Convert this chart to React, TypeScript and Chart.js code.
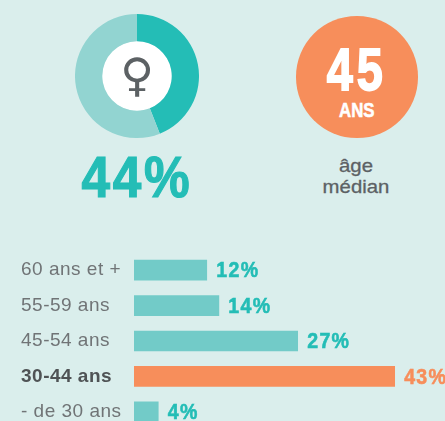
import React, { useEffect, useRef } from "react";
import { Chart, registerables } from "chart.js";

Chart.register(...registerables);

const genderLabels = ["Femmes", "Hommes"];
const genderValues = [44, 56];
const ageLabels = ["60 ans et +", "55-59 ans", "45-54 ans", "30-44 ans", "- de 30 ans"];
const ageValues = [12, 14, 27, 43, 4];
const highlightAge = "30-44 ans";

const TEAL = "#24bdb6";
const TEAL_LIGHT = "#92d4d1";
const TEAL_BAR = "#72cbc8";
const ORANGE = "#f78e5b";
const BG = "#daeeec";
const INK = "#5c6164";
const HEAVY = '"Liberation Sans", sans-serif';

const abs = (left: number, top: number, width: number, height: number): React.CSSProperties => ({
  position: "absolute", left, top, width, height,
});
const stretched = (sx: number): React.CSSProperties => ({ transform: `scaleX(${sx})`, transformOrigin: "center" });

export default function App() {
  const donutRef = useRef<HTMLCanvasElement>(null);
  const barRef = useRef<HTMLCanvasElement>(null);

  useEffect(() => {
    const donut = new Chart(donutRef.current!, {
      type: "doughnut",
      data: {
        labels: genderLabels,
        datasets: [{ data: genderValues, backgroundColor: [TEAL, TEAL_LIGHT], borderWidth: 0 }],
      },
      options: {
        animation: false, responsive: false, cutout: "56%",
        layout: { padding: 0 },
        plugins: { legend: { display: false }, tooltip: { enabled: false } },
      },
    });

    const valueLabels = {
      id: "valueLabels",
      beforeDraw(chart: any) {
        chart.ctx.letterSpacing = "0.5px";
      },
      afterDatasetsDraw(chart: any) {
        const { ctx } = chart;
        const meta = chart.getDatasetMeta(0);
        meta.data.forEach((bar: any, i: number) => {
          const color = ageLabels[i] === highlightAge ? ORANGE : TEAL;
          ctx.save();
          ctx.translate(bar.x + 9.5, bar.y + 1);
          ctx.scale(0.87, 1);
          ctx.letterSpacing = "1.5px";
          ctx.font = `bold 22.5px ${HEAVY}`;
          ctx.textBaseline = "middle";
          ctx.textAlign = "left";
          ctx.fillStyle = color;
          ctx.strokeStyle = color;
          ctx.lineWidth = 0.6;
          ctx.fillText(`${ageValues[i]}%`, 0, 0);
          ctx.strokeText(`${ageValues[i]}%`, 0, 0);
          ctx.restore();
        });
      },
    };

    const bars = new Chart(barRef.current!, {
      type: "bar",
      plugins: [valueLabels],
      data: {
        labels: ageLabels,
        datasets: [{
          data: ageValues,
          barThickness: 20,
          backgroundColor: ageLabels.map((l) => (l === highlightAge ? ORANGE : TEAL_BAR)),
        }],
      },
      options: {
        indexAxis: "y",
        animation: false,
        responsive: false,
        layout: { padding: { left: 21, top: 252.5, bottom: 11.5, right: 0 } },
        plugins: { legend: { display: false }, tooltip: { enabled: false } },
        scales: {
          x: { display: false, min: 0, max: 51.3 },
          y: {
            grid: { display: false },
            border: { display: false },
            afterFit(scale: any) { scale.width = 113; },
            ticks: {
              crossAlign: "far",
              padding: 0,
              color: (c: any) => (ageLabels[c.index] === highlightAge ? "#4f5355" : "#707476"),
              font: (c: any) => ({
                family: HEAVY,
                size: 19,
                weight: ageLabels[c.index] === highlightAge ? "bold" : "normal",
              }),
            },
          },
        },
      },
    });

    return () => { donut.destroy(); bars.destroy(); };
  }, []);

  return (
    <div style={{ position: "fixed", left: 0, top: 0, width: 445, height: 421, overflow: "hidden", background: BG }}>
      <div style={{ ...abs(102.3, 41.3, 69.4, 69.4), background: "#fff", borderRadius: "50%" }} />
      <canvas ref={donutRef} width={124} height={124} style={{ ...abs(75, 14, 124, 124), display: "block" }} />
      <div style={{ ...abs(97, 43, 80, 64), font: '46px/64px "DejaVu Sans"', color: INK, textAlign: "center" }}>♀</div>
      <div style={{ ...abs(47, 144, 180, 66), ...stretched(0.9), font: `bold 57px/66px ${HEAVY}`, color: TEAL, textAlign: "center", letterSpacing: 3, WebkitTextStroke: `1.2px ${TEAL}` }}>44%</div>

      <div style={{ ...abs(296, 16, 121.5, 121.5), background: ORANGE, borderRadius: "50%" }} />
      <div style={{ ...abs(296, 40, 121.5, 60), ...stretched(0.78), font: `bold 60px/60px ${HEAVY}`, color: "#fff", textAlign: "center", letterSpacing: 5, WebkitTextStroke: "1.8px #fff" }}>45</div>
      <div style={{ ...abs(296, 97, 121.5, 26), ...stretched(0.8), font: `bold 21px/26px ${HEAVY}`, color: "#fff", textAlign: "center", WebkitTextStroke: "0.6px #fff" }}>ANS</div>
      <div style={{ ...abs(296, 155, 120, 44), ...stretched(1.1), font: `18.5px/21px ${HEAVY}`, color: INK, textAlign: "center", WebkitTextStroke: "0.3px " + INK }}>
        âge<br />médian
      </div>

      <canvas ref={barRef} width={445} height={441} style={{ ...abs(0, 0, 445, 441), display: "block" }} />
    </div>
  );
}
